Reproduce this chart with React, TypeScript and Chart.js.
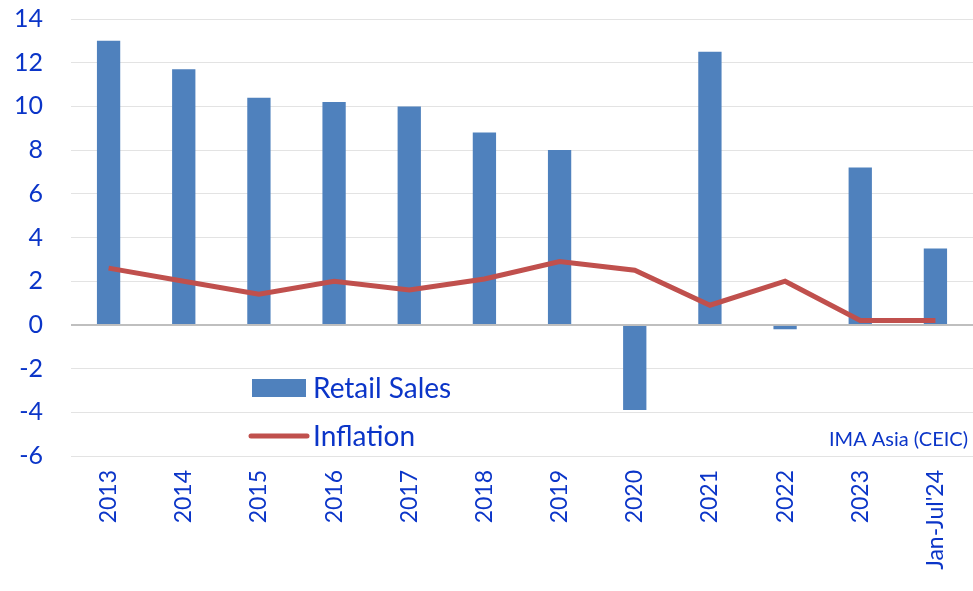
import React, { useEffect, useRef } from "react";
import { Chart, registerables } from "chart.js";

Chart.register(...registerables);

const categories = ["2013", "2014", "2015", "2016", "2017", "2018", "2019", "2020", "2021", "2022", "2023", "Jan-Jul'24"];
const retailSales = [13.0, 11.7, 10.4, 10.2, 10.0, 8.8, 8.0, -3.9, 12.5, -0.2, 7.2, 3.5];
const inflation = [2.6, 2.0, 1.4, 2.0, 1.6, 2.1, 2.9, 2.5, 0.9, 2.0, 0.2, 0.2];
const yTicks = [14, 12, 10, 8, 6, 4, 2, 0, -2, -4, -6];

const BLUE_TEXT = "#0B35C8";
const BAR = "#4F81BD";
const LINE = "#C0504D";
const FONT = "Lato, 'Open Sans', sans-serif";

const legendPlugin = {
  id: "customLegend",
  afterDraw(chart: any) {
    const ctx = chart.ctx;
    ctx.save();
    ctx.fillStyle = BAR;
    ctx.fillRect(252, 379, 54, 18);
    ctx.strokeStyle = LINE;
    ctx.lineWidth = 5;
    ctx.lineCap = "round";
    ctx.beginPath();
    ctx.moveTo(251, 436);
    ctx.lineTo(307, 436);
    ctx.stroke();
    ctx.fillStyle = BLUE_TEXT;
    ctx.font = `28px ${FONT}`;
    ctx.textBaseline = "alphabetic";
    ctx.textAlign = "left";
    ctx.fillText("Retail Sales", 313, 398);
    ctx.fillText("Inflation", 313, 446);
    ctx.font = `20px ${FONT}`;
    ctx.textAlign = "right";
    ctx.fillText("IMA Asia (CEIC)", 968, 446);
    ctx.restore();
  },
};

export default function App() {
  const ref = useRef<HTMLCanvasElement>(null);
  useEffect(() => {
    document.body.style.margin = "0";
    const chart = new Chart(ref.current!, {
      type: "bar",
      data: {
        labels: categories,
        datasets: [
          {
            type: "line",
            label: "Inflation",
            data: inflation,
            borderColor: LINE,
            backgroundColor: LINE,
            borderWidth: 5,
            pointRadius: 0,
            tension: 0,
            order: 0,
          } as any,
          {
            type: "bar",
            label: "Retail Sales",
            data: retailSales,
            backgroundColor: BAR,
            borderWidth: 0,
            barPercentage: 0.31,
            categoryPercentage: 1,
            order: 1,
          },
        ],
      },
      options: {
        animation: false,
        responsive: false,
        maintainAspectRatio: false,
        layout: { padding: { top: 19, right: 0, left: 0, bottom: 0 } },
        plugins: { legend: { display: false }, tooltip: { enabled: false } },
        scales: {
          x: {
            grid: { display: false, drawTicks: false },
            border: { display: false },
            ticks: {
              color: BLUE_TEXT,
              font: { family: FONT, size: 23 },
              maxRotation: 90,
              minRotation: 90,
              padding: 14,
              autoSkip: false,
            },
            afterFit(scale: any) {
              scale.height = 135;
              scale.paddingLeft = 0;
              scale.paddingRight = 0;
              scale.paddingTop = 0;
              scale.paddingBottom = 0;
            },
          },
          y: {
            min: -6,
            max: 14,
            afterBuildTicks(scale: any) {
              scale.ticks = yTicks.map((v) => ({ value: v }));
            },
            grid: {
              color: (c: any) => (c.tick && c.tick.value === 0 ? "#BFBFBF" : "#E3E3E3"),
              lineWidth: (c: any) => (c.tick && c.tick.value === 0 ? 2 : 1),
              drawTicks: false,
            },
            border: { display: false },
            ticks: {
              color: BLUE_TEXT,
              font: { family: FONT, size: 25 },
              padding: 28,
            },
            afterFit(scale: any) {
              scale.width = 71;
              scale.paddingTop = 0;
              scale.paddingBottom = 0;
            },
          },
        },
      },
      plugins: [legendPlugin],
    });
    return () => chart.destroy();
  }, []);
  return <canvas ref={ref} width={973} height={591} style={{ display: "block" }} />;
}
